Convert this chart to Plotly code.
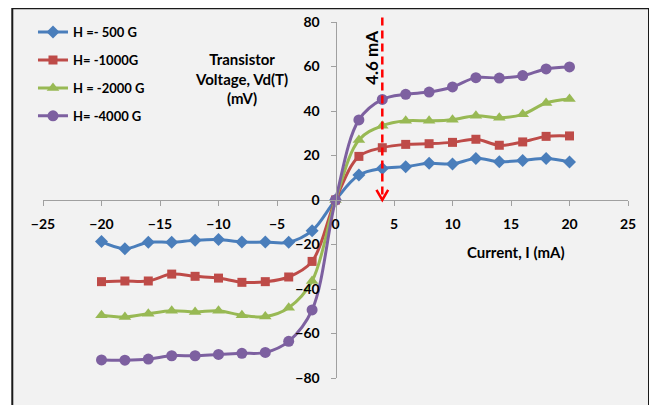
import plotly.graph_objects as go

current = [-20, -18, -16, -14, -12, -10, -8, -6, -4, -2, 0, 2, 4, 6, 8, 10, 12, 14, 16, 18, 20]
h500 = [-18.7, -21.9, -19.0, -19.0, -18.1, -17.8, -18.9, -18.9, -19.0, -13.8, 0,
        11.2, 14.2, 15.0, 16.5, 16.2, 18.7, 17.2, 17.8, 18.6, 17.1]
h1000 = [-36.7, -36.4, -36.4, -33.3, -34.3, -35.1, -37.0, -36.7, -34.6, -27.6, 0,
         19.6, 23.5, 25.0, 25.3, 25.9, 27.3, 24.6, 26.1, 28.6, 28.8]
h2000 = [-51.8, -52.6, -51.1, -49.8, -50.3, -49.8, -51.8, -52.4, -48.4, -36.4, 0,
         27.0, 33.4, 35.6, 35.6, 36.1, 37.9, 37.0, 38.5, 43.6, 45.4]
h4000 = [-71.9, -72.0, -71.5, -70.0, -70.0, -69.4, -68.9, -68.5, -63.5, -49.4, 0,
         36.0, 45.2, 47.5, 48.5, 50.8, 55.0, 54.8, 55.9, 58.9, 59.8]

names = ["H =- 500 G", "H= -1000G", "H = -2000 G", "H= -4000 G"]
series = [h500, h1000, h2000, h4000]
colors = ["#4A7EBB", "#BE4B48", "#98B954", "#7D60A0"]
symbols = ["diamond", "square", "triangle-up", "circle"]
sizes = [10, 9, 11, 11]

x_ticks = [-25, -20, -15, -10, -5, 0, 5, 10, 15, 20, 25]
y_ticks = [-80, -60, -40, -20, 0, 20, 40, 60, 80]
Y_MIN, Y_MAX = -80, 80
marker_current = 4
marker_label = "4.6 mA"


def ypaper(v):
    return (v - Y_MIN) / (Y_MAX - Y_MIN)


FONT = "Lato"
fig = go.Figure()
for i, (nm, ys) in enumerate(zip(names, series)):
    fig.add_trace(go.Scatter(
        x=current, y=ys, name=nm, mode="lines+markers",
        line=dict(color=colors[i], width=3, shape="spline"),
        marker=dict(symbol=symbols[i], size=sizes[i], color=colors[i]),
        legendgroup=str(i),
    ))

# outer chart frame
fig.add_shape(type="rect", xref="paper", yref="paper",
              x0=-0.0525, x1=1.0359, y0=-0.09, y1=1.0384,
              line=dict(color="#1a1a1a", width=2), fillcolor="#F2F2F2", layer="below")

# dashed red arrow
fig.add_shape(type="line", xref="x", yref="paper", x0=marker_current, x1=marker_current,
              y0=ypaper(82), y1=ypaper(1), line=dict(color="#FF0000", width=2.5, dash="8px,5px"))
fig.add_shape(type="path", xref="x", yref="y",
              path=f"M {marker_current-0.5},4.5 L {marker_current},0 L {marker_current+0.5},4.5",
              line=dict(color="#FF0000", width=2.5))

fig.add_annotation(x=3.05, y=64, xref="x", yref="y", text=marker_label, textangle=-90,
                   xanchor="center", yanchor="middle",
                   showarrow=False, font=dict(family=FONT, size=17, color="#000", weight="bold"))
fig.add_annotation(x=0.340, y=0.841, xref="paper", yref="paper",
                   xanchor="center", yanchor="middle",
                   text="Transistor<br>Voltage, Vd(T)<br>(mV)", showarrow=False,
                   font=dict(family=FONT, size=15, color="#000", weight="bold"))
fig.add_annotation(x=0.809, y=0.3545, xref="paper", yref="paper",
                   xanchor="center", yanchor="middle",
                   text="Current, I (mA)", showarrow=False,
                   font=dict(family=FONT, size=15, color="#000", weight="bold"))

axis_common = dict(showgrid=False, zeroline=False, showline=True, linecolor="#A0A0A0",
                   linewidth=1, ticks="outside", ticklen=5, tickcolor="#A0A0A0",
                   automargin=False,
                   tickfont=dict(family=FONT, size=14, color="#000", weight="bold"))
fig.update_layout(
    width=649, height=397,
    margin=dict(l=34.7, r=29, t=13.7, b=26.5, autoexpand=False),
    paper_bgcolor="white", plot_bgcolor="#F2F2F2",
    xaxis=dict(range=[-25, 25], tickvals=x_ticks, anchor="free", position=0.5,
               ticklabelstandoff=6, **axis_common),
    yaxis=dict(range=[Y_MIN, Y_MAX], tickvals=y_ticks, anchor="free", position=0.5,
               ticklabelstandoff=8, **axis_common),
    legend=dict(x=0.0385, y=0.977, xref="container", yref="container",
                xanchor="left", yanchor="top",
                bgcolor="rgba(0,0,0,0)", tracegroupgap=8,
                font=dict(family=FONT, size=13, color="#000", weight="bold")),
    showlegend=True,
)
fig.write_html("out.html")
